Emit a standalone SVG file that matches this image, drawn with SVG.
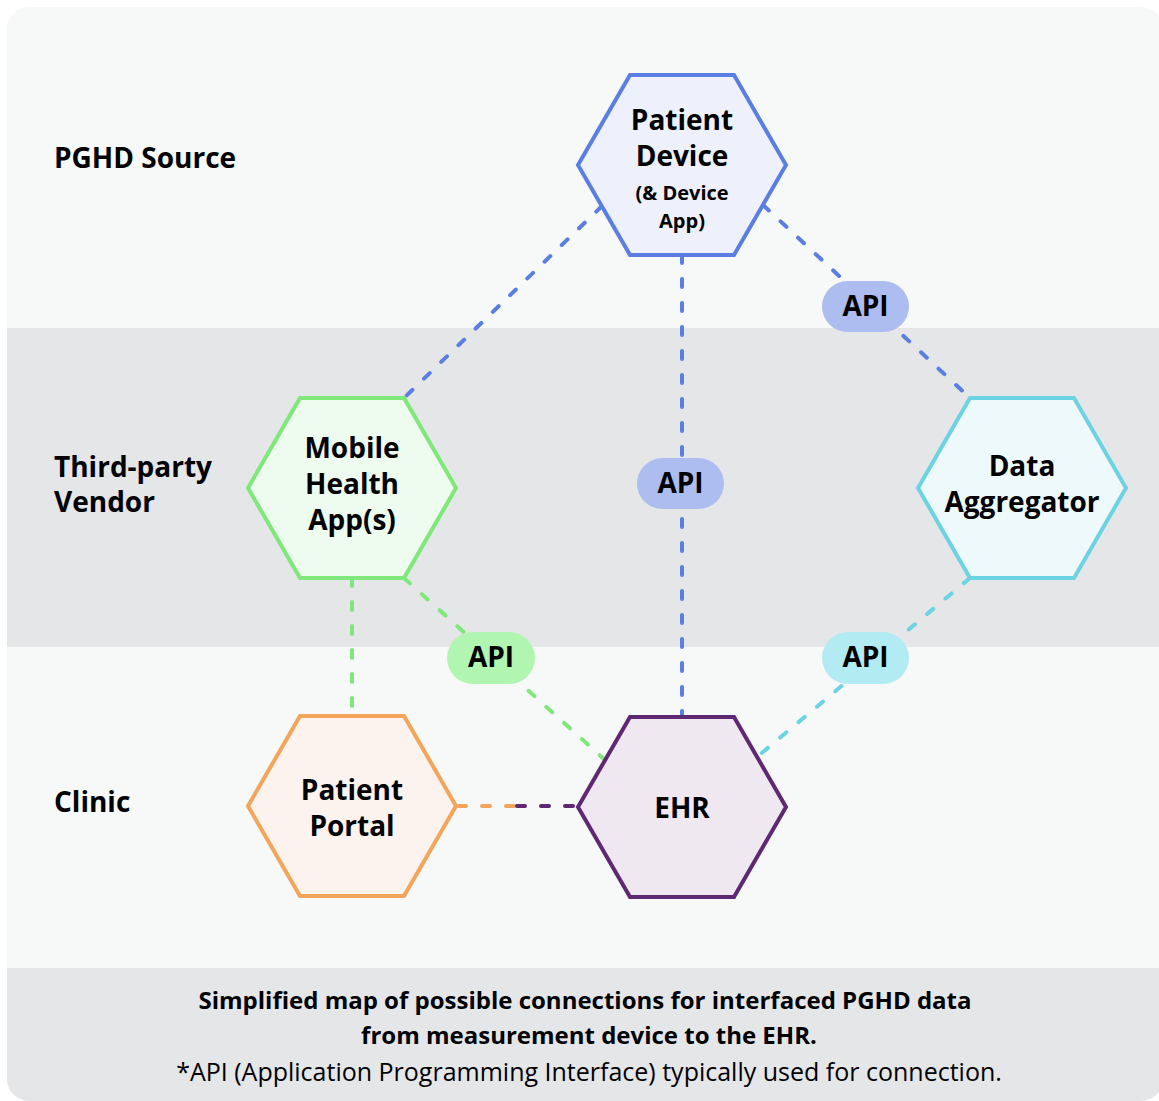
<svg xmlns="http://www.w3.org/2000/svg" width="1159" height="1101" viewBox="0 0 1159 1101">
<defs>
<style>
.t{font-family:"Open Sans","Liberation Sans",sans-serif;font-weight:700;fill:#000;text-anchor:middle}
.row{font-family:"Open Sans","Liberation Sans",sans-serif;font-weight:700;font-size:28px;fill:#000}
.hx{font-size:28px}
.sm{font-size:20px}
.api{font-size:28px}
.cap{font-size:24px}
.capr{font-family:"Open Sans","Liberation Sans",sans-serif;font-weight:400;font-size:25px;fill:#000;text-anchor:middle}
.c{fill:none;stroke-width:4;stroke-dasharray:8 16;stroke-linecap:round}
.hex{stroke-width:4;stroke-linejoin:miter}
</style>
<clipPath id="clip"><rect x="7" y="7" width="1156" height="1094" rx="22"/></clipPath>
</defs>
<rect width="1159" height="1101" fill="#ffffff"/>
<g clip-path="url(#clip)">
<rect x="0" y="0" width="1159" height="328" fill="#f7f9f9"/>
<rect x="0" y="328" width="1159" height="319" fill="#e5e6e8"/>
<rect x="0" y="647" width="1159" height="321" fill="#f7f9f9"/>
<rect x="0" y="968" width="1159" height="133" fill="#e5e6e8"/>
</g>
<g id="row-labels">
<text class="row" x="54" y="168">PGHD Source</text>
<text class="row" x="54" y="477">Third-party</text>
<text class="row" x="54" y="512">Vendor</text>
<text class="row" x="54" y="812">Clinic</text>
</g>
<g id="connectors">
<line class="c" stroke="#5b7fe0" x1="602" y1="206" x2="404" y2="398"/>
<line class="c" stroke="#5b7fe0" x1="682" y1="255" x2="682" y2="717"/>
<line class="c" stroke="#5b7fe0" x1="763" y1="205" x2="970" y2="398"/>
<line class="c" stroke="#7ee87a" x1="404" y1="578" x2="605" y2="760"/>
<line class="c" stroke="#7ee87a" x1="352" y1="578" x2="352" y2="716"/>
<line class="c" stroke="#6dd3e3" x1="970" y1="578" x2="757" y2="757"/>
<line class="c" stroke="#f4a55c" x1="458" y1="806" x2="517" y2="806"/>
<line class="c" stroke="#5e2872" x1="517" y1="806" x2="578" y2="806"/>
</g>
<g id="api-pd-da">
<rect x="822" y="281" width="87" height="51" rx="25.5" fill="#adbdf0"/>
<text class="t api" x="865.5" y="316">API</text>
</g>
<g id="api-pd-ehr">
<rect x="637" y="458" width="87" height="51" rx="25.5" fill="#adbdf0"/>
<text class="t api" x="680.5" y="493">API</text>
</g>
<g id="api-mh-ehr">
<rect x="447" y="632" width="88" height="52" rx="26" fill="#b0f5b0"/>
<text class="t api" x="491" y="667">API</text>
</g>
<g id="api-da-ehr">
<rect x="822" y="632" width="87" height="52" rx="26" fill="#b3ebf2"/>
<text class="t api" x="865.5" y="667">API</text>
</g>
<g id="patient-device">
<polygon class="hex" points="578,165 630,75 734,75 786,165 734,255 630,255" fill="#eef1fc" stroke="#5b7fe0"/>
<text class="t hx" x="682" y="130">Patient</text>
<text class="t hx" x="682" y="166">Device</text>
<text class="t sm" x="682" y="200">(&amp; Device</text>
<text class="t sm" x="682" y="228">App)</text>
</g>
<g id="mobile-health">
<polygon class="hex" points="248,488 300,398 404,398 456,488 404,578 300,578" fill="#eefbef" stroke="#7ee87a"/>
<text class="t hx" x="352" y="458">Mobile</text>
<text class="t hx" x="352" y="494">Health</text>
<text class="t hx" x="352" y="530">App(s)</text>
</g>
<g id="data-aggregator">
<polygon class="hex" points="918,488 970,398 1074,398 1126,488 1074,578 970,578" fill="#eef9fc" stroke="#6dd3e3"/>
<text class="t hx" x="1022" y="476">Data</text>
<text class="t hx" x="1022" y="512">Aggregator</text>
</g>
<g id="patient-portal">
<polygon class="hex" points="248,806 300,716 404,716 456,806 404,896 300,896" fill="#fdf3ee" stroke="#f4a55c"/>
<text class="t hx" x="352" y="800">Patient</text>
<text class="t hx" x="352" y="836">Portal</text>
</g>
<g id="ehr">
<polygon class="hex" points="578,807 630,717 734,717 786,807 734,897 630,897" fill="#efe8f0" stroke="#5e2872"/>
<text class="t hx" x="682" y="818">EHR</text>
</g>
<g id="caption">
<text class="t cap" x="585" y="1009">Simplified map of possible connections for interfaced PGHD data</text>
<text class="t cap" x="589" y="1044">from measurement device to the EHR.</text>
<text class="capr" x="589" y="1081">*API (Application Programming Interface) typically used for connection.</text>
</g>
</svg>
